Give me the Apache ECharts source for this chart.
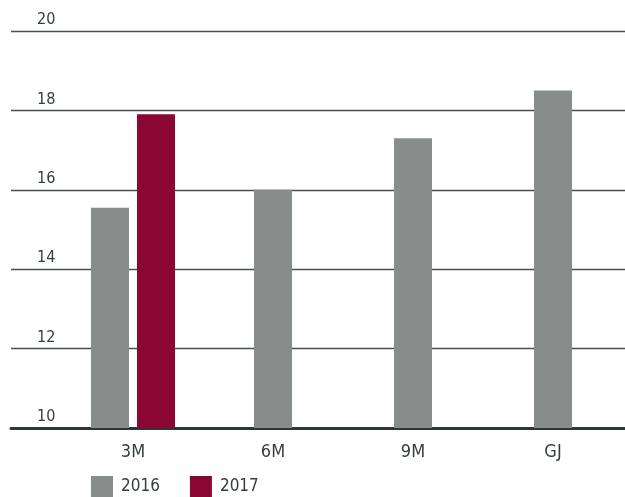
<!DOCTYPE html>
<html>
<head>
<meta charset="utf-8">
<script src="https://cdn.jsdelivr.net/npm/echarts@6/dist/echarts.min.js"></script>
<style>html,body{margin:0;padding:0;background:#fff}#c{width:625px;height:497px}</style>
</head>
<body>
<div id="c"></div>
<script>
const categories = ['3M', '6M', '9M', 'GJ'];
const values2016 = [15.55, 16.0, 17.3, 18.5];
const values2017 = [17.9, null, null, null];
const yMin = 10, yMax = 20, yInterval = 2;

// 2016 bars that stand alone (centered), and the 2016 bar paired with 2017
const solo2016 = values2016.map((v, i) => values2017[i] == null ? v : null);
const paired2016 = values2016.map((v, i) => values2017[i] != null ? v : null);

const grey = '#878d8a', red = '#8a0633', textCol = '#363e3b';
const font = '"Liberation Sans Narrow", "DejaVu Sans Condensed", sans-serif';

const chart = echarts.init(document.getElementById('c'), null, {renderer: 'canvas'});
chart.setOption({
  animation: false,
  backgroundColor: '#fff',
  grid: [
    {left: 11, right: 0, top: 31, height: 397},
    {left: 63, right: 2, top: 31, height: 397}
  ],
  legend: {
    left: 91, top: 476, padding: 0, itemWidth: 22, itemHeight: 22, itemGap: 30,
    icon: 'rect',
    data: ['2016', '2017'],
    textStyle: {fontFamily: font, fontSize: 17, color: textCol, padding: [6, 0, 0, 3]}
  },
  xAxis: [
    {gridIndex: 0, type: 'category', data: categories, show: true,
     axisLine: {show: true, lineStyle: {color: '#2d3833', width: 3}},
     axisTick: {show: false}, axisLabel: {show: false}, splitLine: {show: false}},
    {gridIndex: 1, type: 'category', data: categories,
     axisLine: {show: false}, axisTick: {show: false},
     axisLabel: {fontFamily: font, fontSize: 18, color: textCol, margin: 15}},
    {gridIndex: 1, type: 'category', data: categories, show: false}
  ],
  yAxis: [
    {gridIndex: 0, type: 'value', min: yMin, max: yMax, interval: yInterval,
     axisLine: {show: false}, axisTick: {show: false},
     axisLabel: {inside: true, margin: 26, verticalAlign: 'bottom', padding: [0, 0, 3, 0],
                 fontFamily: font, fontSize: 16, color: textCol},
     splitLine: {show: true, lineStyle: {color: '#46504d', width: 1.3}}},
    {gridIndex: 1, type: 'value', min: yMin, max: yMax, interval: yInterval, show: false,
     splitLine: {show: false}}
  ],
  series: [
    {name: '2016', type: 'bar', xAxisIndex: 1, yAxisIndex: 1, data: solo2016,
     barWidth: 38, itemStyle: {color: grey}, z: 1},
    {name: '2016', type: 'bar', xAxisIndex: 2, yAxisIndex: 1, data: paired2016,
     barWidth: 38, barGap: '21%', itemStyle: {color: grey}, z: 1},
    {name: '2017', type: 'bar', xAxisIndex: 2, yAxisIndex: 1, data: values2017,
     barWidth: 38, barGap: '21%', itemStyle: {color: red}, z: 1}
  ]
});
</script>
</body>
</html>
